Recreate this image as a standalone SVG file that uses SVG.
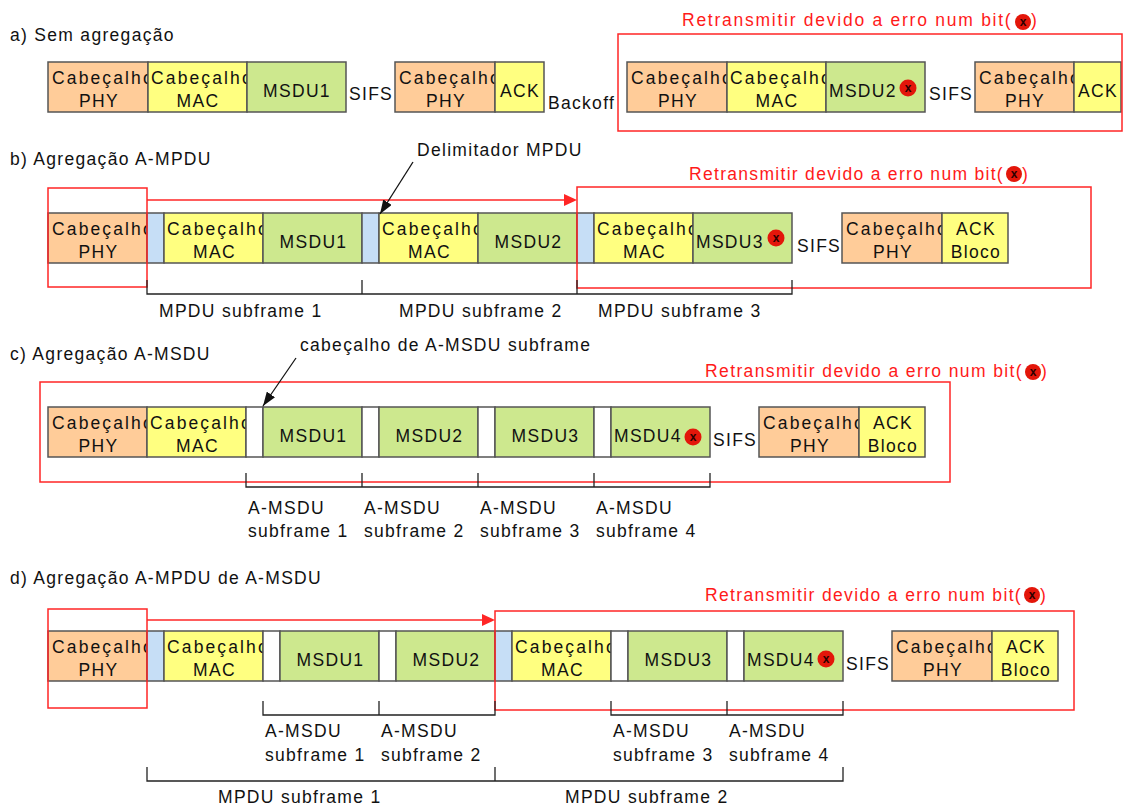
<svg xmlns="http://www.w3.org/2000/svg" width="1126" height="807" viewBox="0 0 1126 807">
<style>
text{font-family:"Liberation Sans",Arial,sans-serif;font-size:17.5px;letter-spacing:1.3px;fill:#111}
.c{text-anchor:middle}
.box{stroke:#555;stroke-width:1.5}
.phy{fill:#FFCC99}.mac{fill:#FFFF80}.msdu{fill:#CDE88E}.del{fill:#C6DEF6}.sub{fill:#FFFFFF}
.rt{fill:#FF1A1A}
.rbox{fill:none;stroke:#FF2626;stroke-width:1.5}
.rline{stroke:#FF2626;stroke-width:1.5;fill:none}
.br{fill:none;stroke:#222;stroke-width:1.3}
.dot{fill:#E3160A}
.dx{font-size:12px;letter-spacing:0;font-weight:bold;fill:#2a0000;text-anchor:middle}
</style>
<defs>
<marker id="ah" markerUnits="userSpaceOnUse" markerWidth="14" markerHeight="10" refX="14" refY="5" orient="auto"><path d="M0,0 L14,5 L0,10 z" fill="#111"/></marker>
</defs>
<rect x="0" y="0" width="1126" height="807" fill="#fff"/>

<g id="titles">
<text x="10" y="41">a) Sem agregação</text>
<text x="10" y="165">b) Agregação A-MPDU</text>
<text x="10" y="360">c) Agregação A-MSDU</text>
<text x="10" y="584">d) Agregação A-MPDU de A-MSDU</text>
</g>

<!-- section a -->
<g id="a-phy1"><rect class="box phy" x="48" y="62" width="100" height="50"/><text x="52" y="84" textLength="102" lengthAdjust="spacing">Cabeçalho</text><text class="c" x="99" y="107">PHY</text></g>
<g id="a-mac1"><rect class="box mac" x="148" y="62" width="99" height="50"/><text x="151" y="84" textLength="102" lengthAdjust="spacing">Cabeçalho</text><text class="c" x="198" y="107">MAC</text></g>
<g id="a-msdu1"><rect class="box msdu" x="247" y="62" width="99" height="50"/><text class="c" x="297" y="97">MSDU1</text></g>
<g id="a-phy2"><rect class="box phy" x="395" y="62" width="100" height="50"/><text x="399" y="84" textLength="102" lengthAdjust="spacing">Cabeçalho</text><text class="c" x="446" y="107">PHY</text></g>
<g id="a-ack1"><rect class="box mac" x="495" y="62" width="49" height="50"/><text class="c" x="520" y="97">ACK</text></g>
<g id="a-phy3"><rect class="box phy" x="627" y="62" width="100" height="50"/><text x="631" y="84" textLength="102" lengthAdjust="spacing">Cabeçalho</text><text class="c" x="678" y="107">PHY</text></g>
<g id="a-mac2"><rect class="box mac" x="727" y="62" width="99" height="50"/><text x="730" y="84" textLength="102" lengthAdjust="spacing">Cabeçalho</text><text class="c" x="777" y="107">MAC</text></g>
<g id="a-msdu2"><rect class="box msdu" x="826" y="62" width="99" height="50"/><text x="829" y="97">MSDU2</text><circle class="dot" cx="908" cy="88" r="8.5"/><text class="dx" x="908" y="92">x</text></g>
<g id="a-phy4"><rect class="box phy" x="975" y="62" width="99" height="50"/><text x="979" y="84" textLength="102" lengthAdjust="spacing">Cabeçalho</text><text class="c" x="1025" y="107">PHY</text></g>
<g id="a-ack2"><rect class="box mac" x="1074" y="62" width="47" height="50"/><text class="c" x="1098" y="97">ACK</text></g>
<g id="a-labels">
<text x="349" y="100">SIFS</text>
<text x="548" y="109">Backoff</text>
<text x="929" y="100">SIFS</text>
</g>

<!-- section b -->
<g id="b-phy1"><rect class="box phy" x="48" y="213" width="99" height="50"/><text x="52" y="235" textLength="102" lengthAdjust="spacing">Cabeçalho</text><text class="c" x="98.5" y="258">PHY</text></g>
<g id="b-del1"><rect class="box del" x="147" y="213" width="17" height="50"/></g>
<g id="b-mac1"><rect class="box mac" x="164" y="213" width="99" height="50"/><text x="167" y="235" textLength="102" lengthAdjust="spacing">Cabeçalho</text><text class="c" x="214.5" y="258">MAC</text></g>
<g id="b-msdu1"><rect class="box msdu" x="263" y="213" width="99" height="50"/><text class="c" x="313.5" y="248">MSDU1</text></g>
<g id="b-del2"><rect class="box del" x="362" y="213" width="17" height="50"/></g>
<g id="b-mac2"><rect class="box mac" x="379" y="213" width="99" height="50"/><text x="382" y="235" textLength="102" lengthAdjust="spacing">Cabeçalho</text><text class="c" x="429.5" y="258">MAC</text></g>
<g id="b-msdu2"><rect class="box msdu" x="478" y="213" width="99" height="50"/><text class="c" x="528.5" y="248">MSDU2</text></g>
<g id="b-del3"><rect class="box del" x="577" y="213" width="17" height="50"/></g>
<g id="b-mac3"><rect class="box mac" x="594" y="213" width="99" height="50"/><text x="597" y="235" textLength="102" lengthAdjust="spacing">Cabeçalho</text><text class="c" x="644.5" y="258">MAC</text></g>
<g id="b-msdu3"><rect class="box msdu" x="693" y="213" width="99" height="50"/><text x="696" y="248">MSDU3</text><circle class="dot" cx="776" cy="238" r="8.5"/><text class="dx" x="776" y="242">x</text></g>
<g id="b-phy2"><rect class="box phy" x="842" y="213" width="100" height="50"/><text x="846" y="235" textLength="102" lengthAdjust="spacing">Cabeçalho</text><text class="c" x="893" y="258">PHY</text></g>
<g id="b-ack"><rect class="box mac" x="942" y="213" width="66" height="50"/><text class="c" x="976" y="235">ACK</text><text class="c" x="976" y="258">Bloco</text></g>
<g id="b-labels">
<text x="797" y="252">SIFS</text>
<text x="417" y="156">Delimitador MPDU</text>
<text x="159" y="317">MPDU subframe 1</text>
<text x="399" y="317">MPDU subframe 2</text>
<text x="598" y="317">MPDU subframe 3</text>
</g>

<!-- section c -->
<g id="c-phy1"><rect class="box phy" x="48" y="407" width="99" height="50"/><text x="52" y="429" textLength="102" lengthAdjust="spacing">Cabeçalho</text><text class="c" x="98.5" y="452">PHY</text></g>
<g id="c-mac1"><rect class="box mac" x="147" y="407" width="99" height="50"/><text x="150" y="429" textLength="102" lengthAdjust="spacing">Cabeçalho</text><text class="c" x="197.5" y="452">MAC</text></g>
<g id="c-sub1"><rect class="box sub" x="246" y="407" width="17" height="50"/></g>
<g id="c-msdu1"><rect class="box msdu" x="263" y="407" width="99" height="50"/><text class="c" x="313.5" y="442">MSDU1</text></g>
<g id="c-sub2"><rect class="box sub" x="362" y="407" width="17" height="50"/></g>
<g id="c-msdu2"><rect class="box msdu" x="379" y="407" width="99" height="50"/><text class="c" x="429.5" y="442">MSDU2</text></g>
<g id="c-sub3"><rect class="box sub" x="478" y="407" width="17" height="50"/></g>
<g id="c-msdu3"><rect class="box msdu" x="495" y="407" width="99" height="50"/><text class="c" x="545.5" y="442">MSDU3</text></g>
<g id="c-sub4"><rect class="box sub" x="594" y="407" width="17" height="50"/></g>
<g id="c-msdu4"><rect class="box msdu" x="611" y="407" width="99" height="50"/><text x="614" y="442">MSDU4</text><circle class="dot" cx="693" cy="437" r="8.5"/><text class="dx" x="693" y="441">x</text></g>
<g id="c-phy2"><rect class="box phy" x="759" y="407" width="100" height="50"/><text x="763" y="429" textLength="102" lengthAdjust="spacing">Cabeçalho</text><text class="c" x="810" y="452">PHY</text></g>
<g id="c-ack"><rect class="box mac" x="859" y="407" width="66" height="50"/><text class="c" x="893" y="429">ACK</text><text class="c" x="893" y="452">Bloco</text></g>
<g id="c-labels">
<text x="713" y="446">SIFS</text>
<text x="300" y="351">cabeçalho de A-MSDU subframe</text>
<text x="248" y="514">A-MSDU</text><text x="248" y="537">subframe 1</text>
<text x="364" y="514">A-MSDU</text><text x="364" y="537">subframe 2</text>
<text x="480" y="514">A-MSDU</text><text x="480" y="537">subframe 3</text>
<text x="596" y="514">A-MSDU</text><text x="596" y="537">subframe 4</text>
</g>

<!-- section d -->
<g id="d-phy1"><rect class="box phy" x="48" y="631" width="99" height="50"/><text x="52" y="653" textLength="102" lengthAdjust="spacing">Cabeçalho</text><text class="c" x="98.5" y="676">PHY</text></g>
<g id="d-del1"><rect class="box del" x="147" y="631" width="17" height="50"/></g>
<g id="d-mac1"><rect class="box mac" x="164" y="631" width="99" height="50"/><text x="167" y="653" textLength="102" lengthAdjust="spacing">Cabeçalho</text><text class="c" x="214.5" y="676">MAC</text></g>
<g id="d-sub1"><rect class="box sub" x="263" y="631" width="17" height="50"/></g>
<g id="d-msdu1"><rect class="box msdu" x="280" y="631" width="99" height="50"/><text class="c" x="330.5" y="666">MSDU1</text></g>
<g id="d-sub2"><rect class="box sub" x="379" y="631" width="17" height="50"/></g>
<g id="d-msdu2"><rect class="box msdu" x="396" y="631" width="99" height="50"/><text class="c" x="446.5" y="666">MSDU2</text></g>
<g id="d-del2"><rect class="box del" x="495" y="631" width="17" height="50"/></g>
<g id="d-mac2"><rect class="box mac" x="512" y="631" width="99" height="50"/><text x="515" y="653" textLength="102" lengthAdjust="spacing">Cabeçalho</text><text class="c" x="562.5" y="676">MAC</text></g>
<g id="d-sub3"><rect class="box sub" x="611" y="631" width="17" height="50"/></g>
<g id="d-msdu3"><rect class="box msdu" x="628" y="631" width="99" height="50"/><text class="c" x="678.5" y="666">MSDU3</text></g>
<g id="d-sub4"><rect class="box sub" x="727" y="631" width="17" height="50"/></g>
<g id="d-msdu4"><rect class="box msdu" x="744" y="631" width="99" height="50"/><text x="747" y="666">MSDU4</text><circle class="dot" cx="826" cy="659" r="8.5"/><text class="dx" x="826" y="663">x</text></g>
<g id="d-phy2"><rect class="box phy" x="892" y="631" width="100" height="50"/><text x="896" y="653" textLength="102" lengthAdjust="spacing">Cabeçalho</text><text class="c" x="943" y="676">PHY</text></g>
<g id="d-ack"><rect class="box mac" x="992" y="631" width="66" height="50"/><text class="c" x="1026" y="653">ACK</text><text class="c" x="1026" y="676">Bloco</text></g>
<g id="d-labels">
<text x="846" y="670">SIFS</text>
<text x="265" y="737">A-MSDU</text><text x="265" y="761">subframe 1</text>
<text x="381" y="737">A-MSDU</text><text x="381" y="761">subframe 2</text>
<text x="613" y="737">A-MSDU</text><text x="613" y="761">subframe 3</text>
<text x="729" y="737">A-MSDU</text><text x="729" y="761">subframe 4</text>
<text x="218" y="803">MPDU subframe 1</text>
<text x="565" y="803">MPDU subframe 2</text>
</g>

<!-- retransmission annotations -->
<g id="retx-a">
<rect class="rbox" x="618" y="34" width="504" height="97"/>
<text class="rt" x="682" y="26" textLength="330" lengthAdjust="spacing">Retransmitir devido a erro num bit(</text>
<circle class="dot" cx="1023" cy="22" r="8"/><text class="dx" x="1023" y="26">x</text>
<text class="rt" x="1031" y="26">)</text>
</g>
<g id="retx-b">
<rect class="rbox" x="48" y="188" width="99" height="99"/>
<rect class="rbox" x="577" y="187" width="514" height="101"/>
<text class="rt" x="689" y="180" textLength="315" lengthAdjust="spacing">Retransmitir devido a erro num bit(</text>
<circle class="dot" cx="1014" cy="174" r="8"/><text class="dx" x="1014" y="178">x</text>
<text class="rt" x="1022" y="180">)</text>
</g>
<g id="retx-c">
<rect class="rbox" x="40" y="382" width="910" height="100"/>
<text class="rt" x="705" y="377" textLength="318" lengthAdjust="spacing">Retransmitir devido a erro num bit(</text>
<circle class="dot" cx="1033" cy="372" r="8"/><text class="dx" x="1033" y="376">x</text>
<text class="rt" x="1041" y="377">)</text>
</g>
<g id="retx-d">
<rect class="rbox" x="48" y="609" width="99" height="99"/>
<rect class="rbox" x="495" y="611" width="579" height="99"/>
<text class="rt" x="705" y="601" textLength="317" lengthAdjust="spacing">Retransmitir devido a erro num bit(</text>
<circle class="dot" cx="1032" cy="595" r="8"/><text class="dx" x="1032" y="599">x</text>
<text class="rt" x="1040" y="601">)</text>
</g>

<!-- connectors -->
<g id="connectors">
<line class="rline" x1="147" y1="200" x2="566" y2="200"/>
<polygon points="564,194 577,200 564,206" fill="#FF2626"/>
<line class="rline" x1="147" y1="620" x2="484" y2="620"/>
<polygon points="482,614 495,620 482,626" fill="#FF2626"/>
<line x1="413" y1="162" x2="380" y2="214" stroke="#111" stroke-width="1.3" marker-end="url(#ah)"/>
<line x1="296" y1="358" x2="263" y2="406" stroke="#111" stroke-width="1.3" marker-end="url(#ah)"/>
<path class="br" d="M147,280 V294 H792 V280 M362,280 V294 M577,280 V294"/>
<path class="br" d="M246,473 V487 H710 V473 M362,473 V487 M478,473 V487 M594,473 V487"/>
<path class="br" d="M263,701 V715 H495 V701 M379,701 V715"/>
<path class="br" d="M611,701 V715 H843 V701 M727,701 V715"/>
<path class="br" d="M147,767 V781 H843 V767 M495,767 V781"/>
</g>
</svg>
